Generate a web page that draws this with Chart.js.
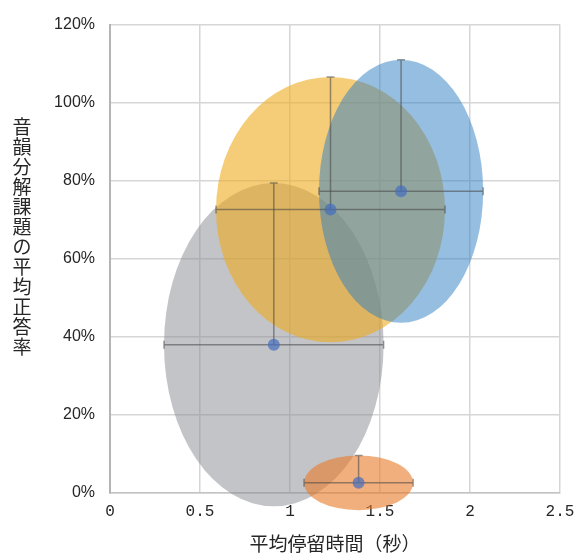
<!DOCTYPE html>
<html>
<head>
<meta charset="utf-8">
<script src="https://cdn.jsdelivr.net/npm/chart.js@4"></script>
<style>
  body { margin: 0; background: #fff; }
  #wrap { width: 576px; height: 556px; }
</style>
</head>
<body>
<div id="wrap"><canvas id="bubbleChart"></canvas></div>
<script>
// グループ（描画順：灰 → 黄 → 青 → 橙）
const groups = ["灰", "黄", "青", "橙"];
// 平均停留時間（秒）
const xVals = [0.91, 1.225, 1.617, 1.381];
// 平均正答率（%）
const yVals = [38.0, 72.6, 77.3, 2.6];
// 誤差（横は両側、縦は上側のみ）
const xErr = [0.61, 0.636, 0.456, 0.303];
const yErr = [41.4, 34.0, 33.7, 7.0];
// 楕円の色
const fillColors = [
  "rgba(135,137,145,0.5)",
  "rgba(238,172,30,0.6)",
  "rgba(45,125,195,0.5)",
  "rgba(234,122,40,0.6)"
];
const xTicks = [0, 0.5, 1, 1.5, 2, 2.5];
const yTicks = [0, 20, 40, 60, 80, 100, 120];

const yTitle = "音韻分解課題の平均正答率";
const xTitle = "平均停留時間（秒）";

// 楕円と誤差線を描くプラグイン
const overlay = {
  id: "overlay",
  beforeDatasetsDraw(chart) {
    const { ctx, scales: { x, y } } = chart;
    ctx.save();
    // 楕円
    groups.forEach((g, i) => {
      const cx = x.getPixelForValue(xVals[i]);
      const cy = y.getPixelForValue(yVals[i]);
      const rx = Math.abs(x.getPixelForValue(xVals[i] + xErr[i]) - cx);
      const ry = Math.abs(y.getPixelForValue(yVals[i] + yErr[i]) - cy);
      ctx.beginPath();
      ctx.ellipse(cx, cy, rx, ry, 0, 0, Math.PI * 2);
      ctx.fillStyle = fillColors[i];
      ctx.fill();
    });
    // 誤差線
    ctx.strokeStyle = "rgba(70,70,70,0.55)";
    ctx.lineWidth = 1.5;
    groups.forEach((g, i) => {
      const cx = x.getPixelForValue(xVals[i]);
      const cy = y.getPixelForValue(yVals[i]);
      const x1 = x.getPixelForValue(xVals[i] - xErr[i]);
      const x2 = x.getPixelForValue(xVals[i] + xErr[i]);
      const yTop = y.getPixelForValue(yVals[i] + yErr[i]);
      ctx.beginPath();
      ctx.moveTo(x1, cy); ctx.lineTo(x2, cy);
      ctx.moveTo(x1, cy - 4); ctx.lineTo(x1, cy + 4);
      ctx.moveTo(x2, cy - 4); ctx.lineTo(x2, cy + 4);
      ctx.moveTo(cx, cy); ctx.lineTo(cx, yTop);
      ctx.moveTo(cx - 4, yTop); ctx.lineTo(cx + 4, yTop);
      ctx.stroke();
    });
    ctx.restore();
  },
  afterDraw(chart) {
    // 縦書きの軸タイトル
    const { ctx } = chart;
    ctx.save();
    ctx.fillStyle = "#262626";
    ctx.font = "19px 'Noto Sans CJK JP'";
    ctx.textAlign = "center";
    ctx.textBaseline = "middle";
    [...yTitle].forEach((ch, k) => {
      ctx.fillText(ch, 22, 127 + k * 20);
    });
    ctx.restore();
  }
};

const ctx = document.getElementById("bubbleChart").getContext("2d");

new Chart(ctx, {
  type: "scatter",
  data: {
    datasets: [
      {
        label: "平均",
        data: xVals.map((v, i) => ({ x: v, y: yVals[i] })),
        backgroundColor: "rgba(68,110,190,0.7)",
        borderWidth: 0,
        pointRadius: 6,
      },
    ],
  },
  options: {
    responsive: true,
    maintainAspectRatio: false,
    animation: false,
    layout: { padding: { top: 24, right: 0, bottom: 0, left: 0 } },
    plugins: {
      legend: { display: false },
      tooltip: { enabled: false },
    },
    scales: {
      x: {
        type: "linear",
        min: 0,
        max: 2.5,
        afterBuildTicks: (axis) => { axis.ticks = xTicks.map(v => ({ value: v })); },
        afterFit: (axis) => { axis.height = 63; axis.paddingRight = 16; },
        grid: { color: "#d6d6d6", lineWidth: 1.5, drawTicks: false },
        border: { color: "#c4c4c4", width: 1.5 },
        ticks: {
          padding: 9,
          color: "#262626",
          font: { family: "'Liberation Mono', 'DejaVu Sans Mono'", size: 16 },
          callback: (v) => String(v),
        },
        title: {
          display: true,
          text: xTitle,
          color: "#262626",
          font: { family: "'Noto Sans CJK JP'", size: 19 },
          padding: { top: 0, bottom: 1 },
        },
      },
      y: {
        min: 0,
        max: 120,
        afterBuildTicks: (axis) => { axis.ticks = yTicks.map(v => ({ value: v })); },
        afterFit: (axis) => { axis.width = 110; },
        grid: { color: "#d6d6d6", lineWidth: 1.5, drawTicks: false },
        border: { color: "#b4b4b4", width: 2 },
        ticks: {
          padding: 15,
          color: "#262626",
          font: { family: "'Liberation Sans', Arial", size: 16 },
          callback: (v) => v + "%",
        },
      },
    },
  },
  plugins: [overlay],
});
</script>
</body>
</html>
